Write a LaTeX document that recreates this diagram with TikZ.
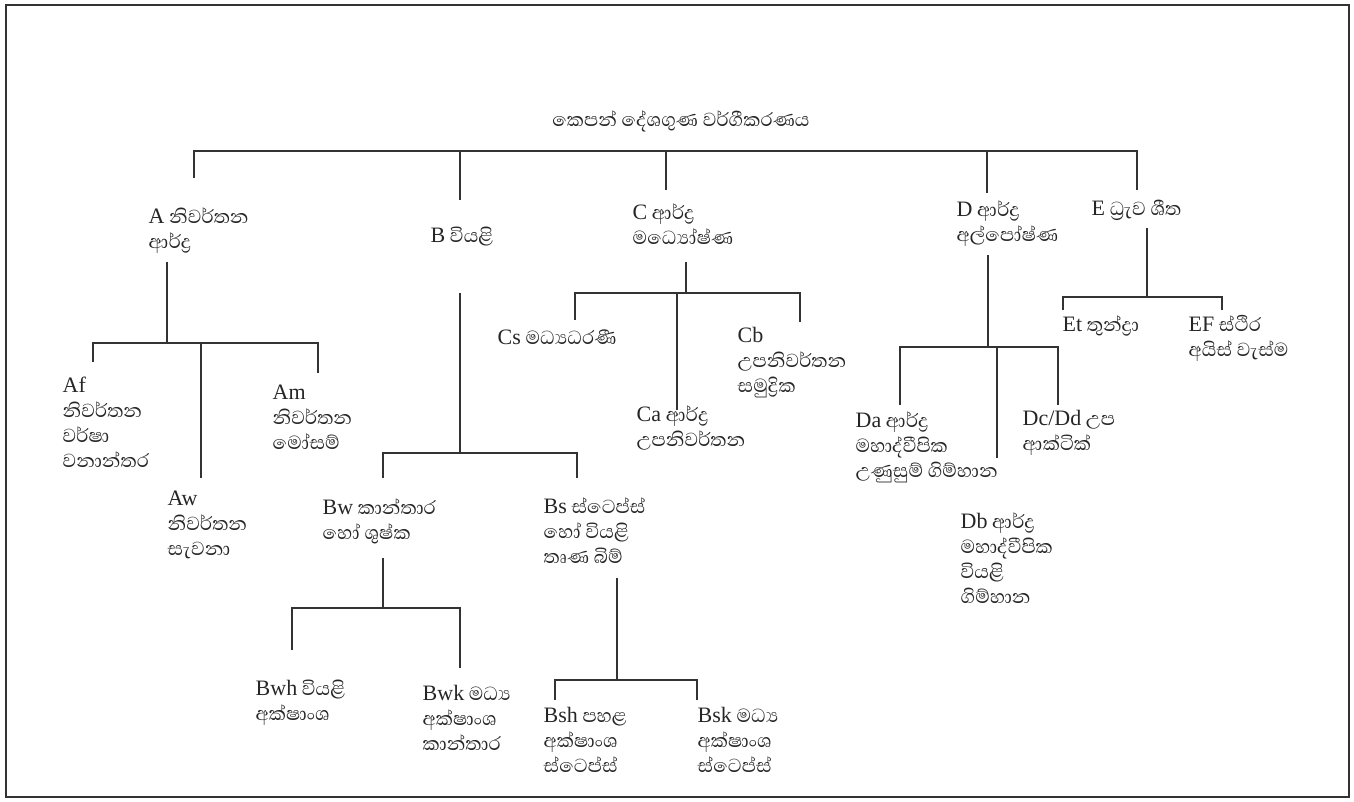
\documentclass[tikz,border=0pt]{standalone}
\usepackage{fontspec}
\setmainfont{Abhaya Libre}[Script=Sinhala,Scale=1.1]
\newfontfamily\latf{Liberation Serif}
\newcommand\ltn[1]{{\latf #1}}
\newcommand\kfont{\fontsize{22}{25}\selectfont\lineskiplimit-50pt\relax}
\usetikzlibrary{positioning}

\begin{document}
\begin{tikzpicture}[x=1pt,y=-1pt,line width=1.4pt,draw=black!80]
  \tikzstyle{every node}=[text=black!85]
  % base of a node with several lines is its last line
  \tikzstyle{klass}=[anchor=base west,inner sep=0pt,align=left,font=\kfont]

  \useasboundingbox (0,0) rectangle (1354,802);
  \draw[line width=1.5pt] (6,5) rectangle (1349,797);

  \node[klass,anchor=base] (K) at (681,127) {කෙපන් දේශගුණ වර්ගීකරණය};

  % main groups
  \node[klass] (A) at (148,249) {\ltn{A} නිවර්තන\\ආර්ද්^^^^200dර};
  \node[klass] (B) at (430,243) {\ltn{B} වියළි};
  \node[klass] (C) at (632,245) {\ltn{C} ආර්ද්^^^^200dර\\මධ්^^^^200dයෝෂ්ණ};
  \node[klass] (D) at (956,242) {\ltn{D} ආර්ද්^^^^200dර\\අල්පෝෂ්ණ};
  \node[klass] (E) at (1091,216) {\ltn{E} ධ්^^^^200dරැව ශීත};

  % A
  \node[klass] (Af) at (62,467) {\ltn{Af}\\නිවර්තන\\වර්ෂා\\වනාන්තර};
  \node[klass] (Aw) at (167,555) {\ltn{Aw}\\නිවර්තන\\සැවනා};
  \node[klass] (Am) at (272,449) {\ltn{Am}\\නිවර්තන\\මෝසම්};

  % B
  \node[klass] (Bw) at (322,539) {\ltn{Bw} කාන්තාර\\හෝ ශුෂ්ක};
  \node[klass] (Bs) at (543,563) {\ltn{Bs} ස්ටෙප්ස්\\හෝ වියළි\\තෘණ බිම්};
  \node[klass] (Bwh) at (255,720) {\ltn{Bwh} වියළි\\අක්ෂාංශ};
  \node[klass] (Bwk) at (422,750) {\ltn{Bwk} මධ්^^^^200dය\\අක්ෂාංශ\\කාන්තාර};
  \node[klass] (Bsh) at (543,772) {\ltn{Bsh} පහළ\\අක්ෂාංශ\\ස්ටෙප්ස්};
  \node[klass] (Bsk) at (697,772) {\ltn{Bsk} මධ්^^^^200dය\\අක්ෂාංශ\\ස්ටෙප්ස්};

  % C
  \node[klass] (Cs) at (497,344) {\ltn{Cs} මධ්^^^^200dයධරණී};
  \node[klass] (Ca) at (636,446) {\ltn{Ca} ආර්ද්^^^^200dර\\උපනිවර්තන};
  \node[klass] (Cb) at (737,392) {\ltn{Cb}\\උපනිවර්තන\\සමුද්^^^^200dරික};

  % D
  \node[klass] (Da) at (855,477) {\ltn{Da} ආර්ද්^^^^200dර\\මහාද්වීපික\\උණුසුම් ගිම්හාන};
  \node[klass] (Db) at (960,603) {\ltn{Db} ආර්ද්^^^^200dර\\මහාද්වීපික\\වියළි\\ගිම්හාන};
  \node[klass] (Dc) at (1022,450) {\ltn{Dc/Dd} උප\\ආක්ටික්};

  % E
  \node[klass] (Et) at (1062,331) {\ltn{Et} තුන්ද්^^^^200dරා};
  \node[klass] (EF) at (1188,356) {\ltn{EF} ස්ථිර\\අයිස් වැස්ම};

  % connector ends
  \coordinate (K-bar) at (681,151);
  \coordinate (A-in) at (194,178);
  \coordinate (B-in) at (460,200);
  \coordinate (C-in) at (666,190);
  \coordinate (D-in) at (987,193);
  \coordinate (E-in) at (1137,190);

  \coordinate (A-out) at (167,262);
  \coordinate (A-bar) at (167,343);
  \coordinate (Af-in) at (93,362);
  \coordinate (Aw-in) at (201,478);
  \coordinate (Am-in) at (318,373);

  \coordinate (B-out) at (460,293);
  \coordinate (B-bar) at (460,453);
  \coordinate (Bw-in) at (383,478);
  \coordinate (Bs-in) at (577,478);

  \coordinate (Bw-out) at (383,558);
  \coordinate (Bw-bar) at (383,608);
  \coordinate (Bwh-in) at (292,650);
  \coordinate (Bwk-in) at (460,668);

  \coordinate (Bs-out) at (617,578);
  \coordinate (Bs-bar) at (617,680);
  \coordinate (Bsh-in) at (555,700);
  \coordinate (Bsk-in) at (697,700);

  \coordinate (C-out) at (686,262);
  \coordinate (C-bar) at (686,293);
  \coordinate (Cs-in) at (575,320);
  \coordinate (Ca-in) at (677,410);
  \coordinate (Cb-in) at (800,322);

  \coordinate (D-out) at (988,255);
  \coordinate (D-bar) at (988,347);
  \coordinate (Da-in) at (900,405);
  \coordinate (Db-in) at (997,458);
  \coordinate (Dc-in) at (1058,405);

  \coordinate (E-out) at (1147,228);
  \coordinate (E-bar) at (1147,297);
  \coordinate (Et-in) at (1063,310);
  \coordinate (EF-in) at (1222,310);

  % tree lines
  \draw (A-in) |- (K-bar) -| (E-in);
  \foreach \k in {B,C,D} \draw (\k-in) -- (\k-in |- K-bar);

  \draw (A-out) -- (A-bar);
  \draw (Af-in) |- (A-bar) -| (Am-in);
  \draw (Aw-in) -- (Aw-in |- A-bar);

  \draw (B-out) -- (B-bar);
  \draw (Bw-in) |- (B-bar) -| (Bs-in);
  \draw (Bw-out) -- (Bw-bar);
  \draw (Bwh-in) |- (Bw-bar) -| (Bwk-in);
  \draw (Bs-out) -- (Bs-bar);
  \draw (Bsh-in) |- (Bs-bar) -| (Bsk-in);

  \draw (C-out) -- (C-bar);
  \draw (Cs-in) |- (C-bar) -| (Cb-in);
  \draw (Ca-in) -- (Ca-in |- C-bar);

  \draw (D-out) -- (D-bar);
  \draw (Da-in) |- (D-bar) -| (Dc-in);
  \draw (Db-in) -- (Db-in |- D-bar);

  \draw (E-out) -- (E-bar);
  \draw (Et-in) |- (E-bar) -| (EF-in);
\end{tikzpicture}
\end{document}
